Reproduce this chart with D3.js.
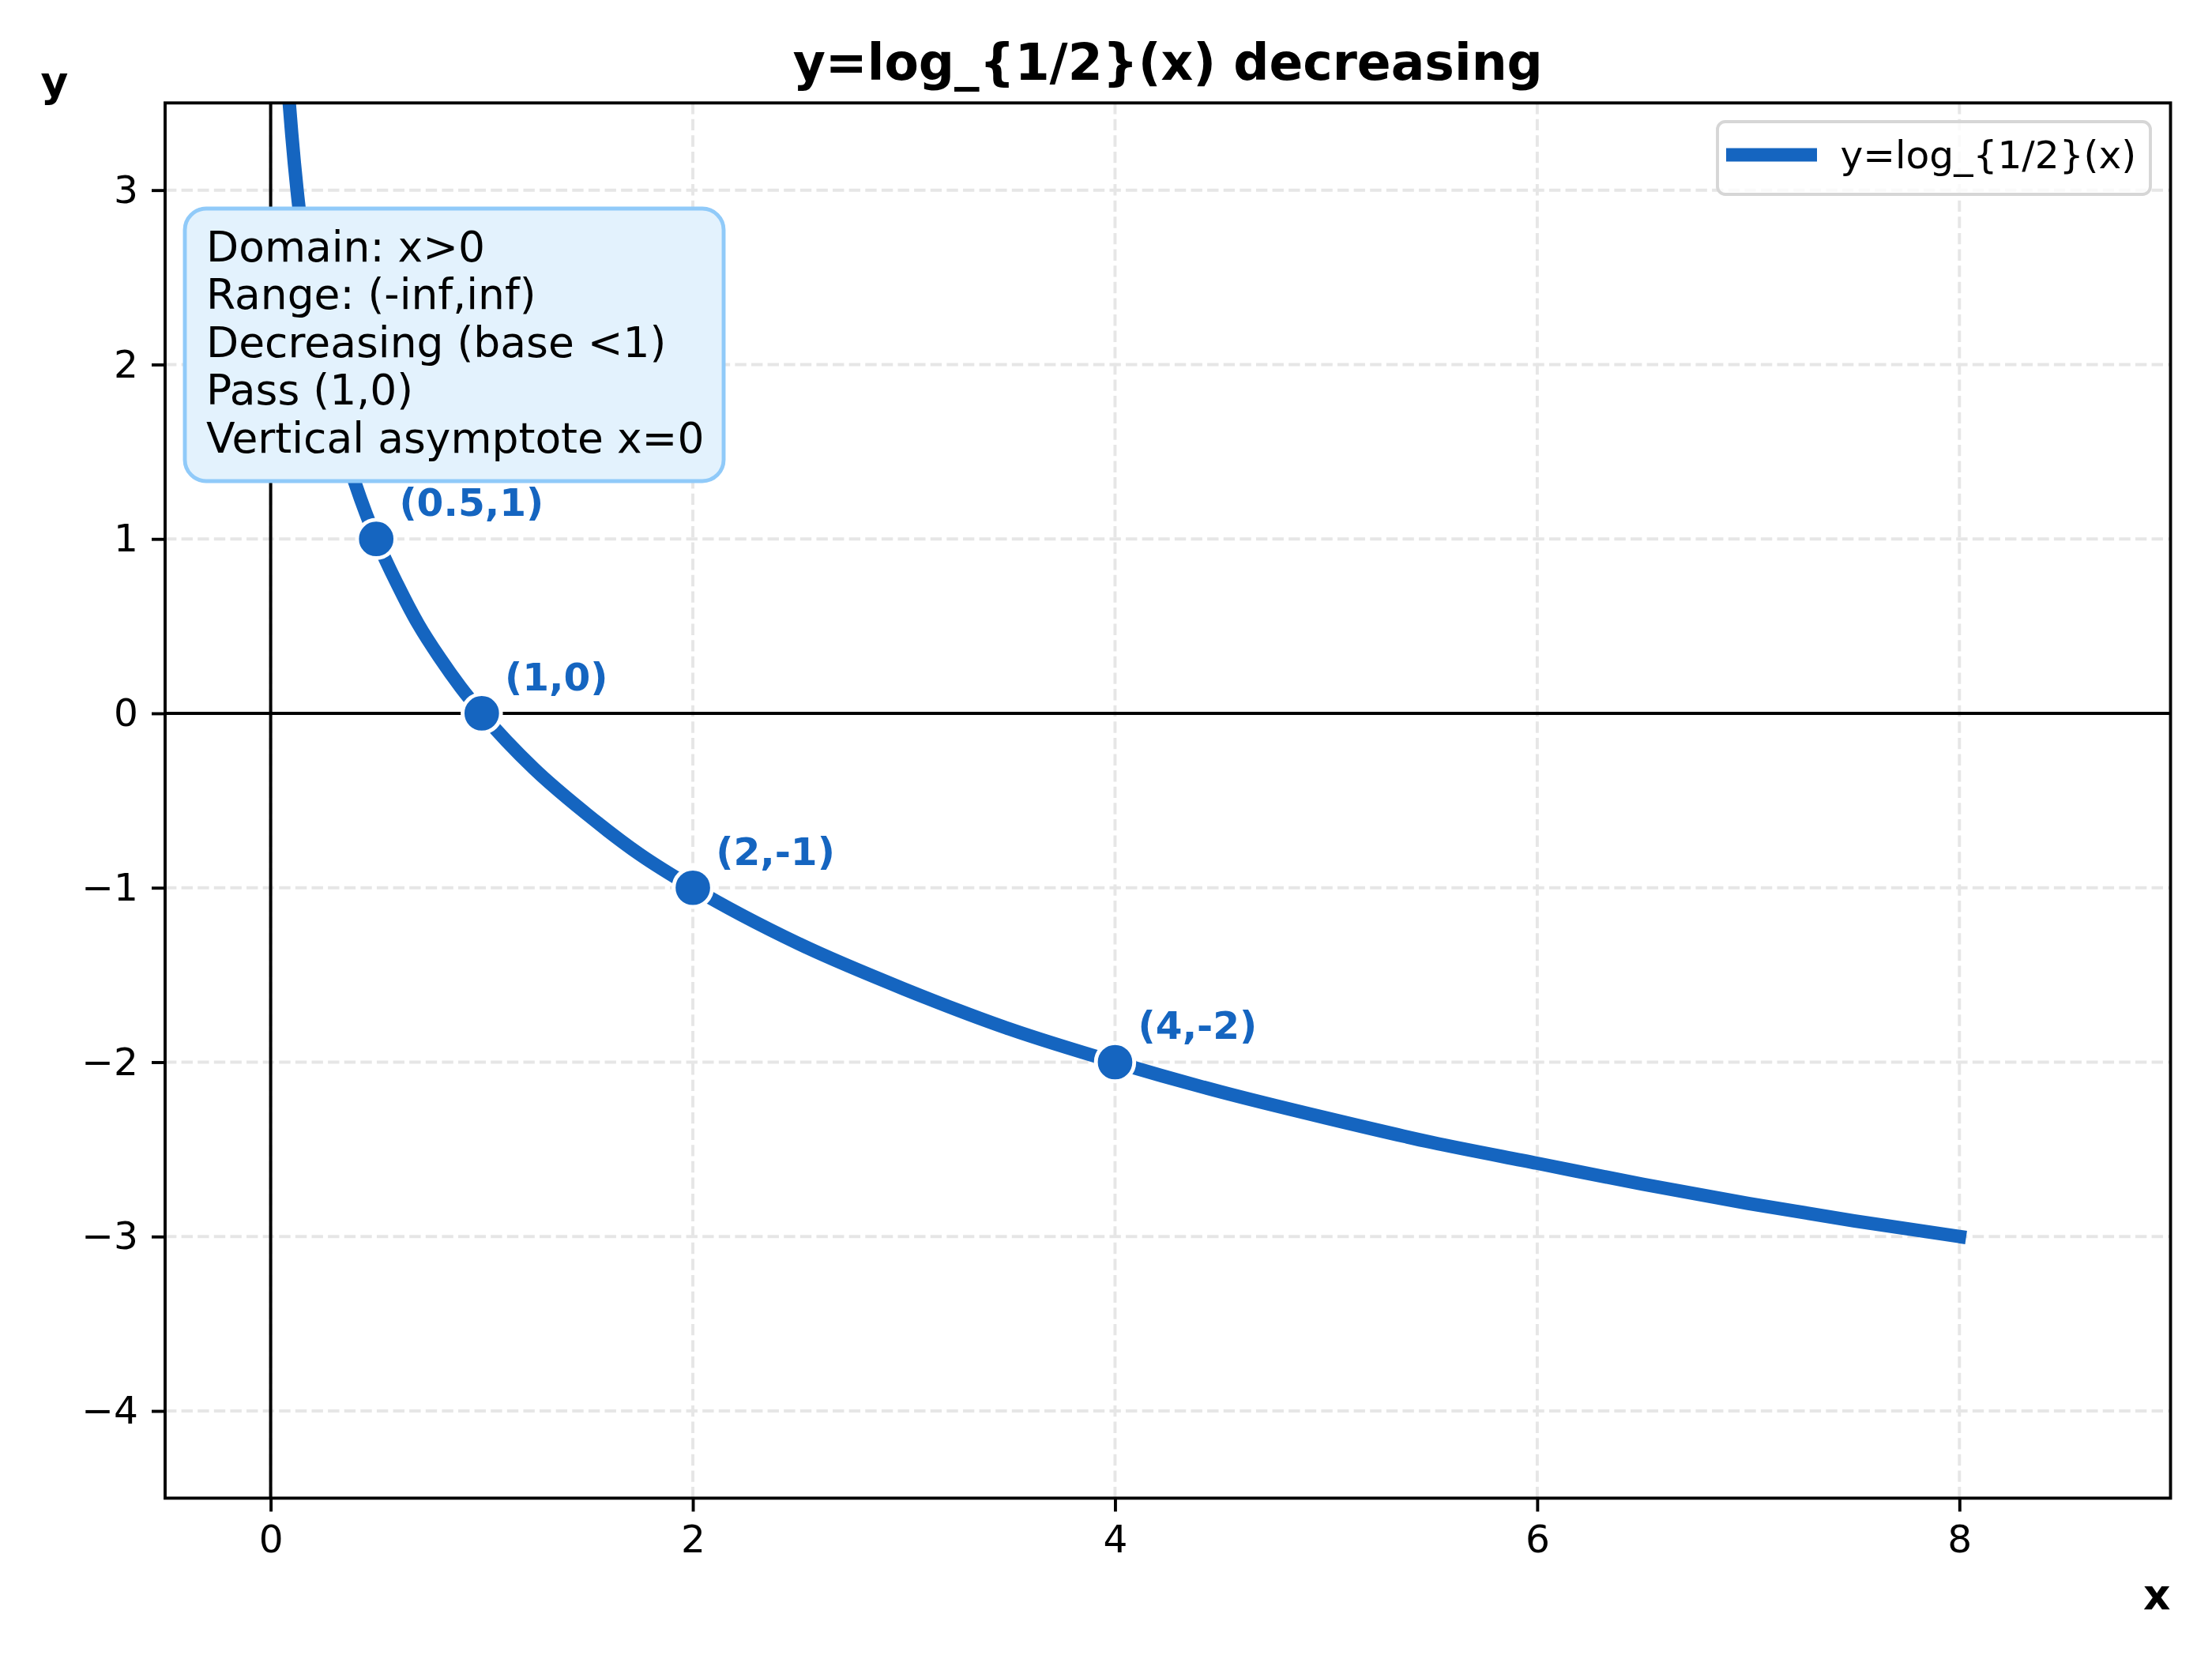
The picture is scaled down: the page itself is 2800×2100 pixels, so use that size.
<!DOCTYPE html>
<html>
<head>
<meta charset="utf-8">
<script src="https://cdn.jsdelivr.net/npm/d3@7"></script>
<style>
  html, body { margin: 0; padding: 0; background: #fff; }
  text { font-family: "DejaVu Sans", sans-serif; }
</style>
</head>
<body>
<svg id="chart"></svg>
<script>
const width = 2800, height = 2100;
const margin = { top: 130.3, right: 52.5, bottom: 203.6, left: 209 };
const plotWidth = width - margin.left - margin.right;
const plotHeight = height - margin.top - margin.bottom;

// Curve samples (x, y)
const curveX = [0.07, 0.088, 0.1, 0.125, 0.15, 0.2, 0.25, 0.3, 0.35, 0.4, 0.45, 0.5, 0.6, 0.7, 0.8, 0.9, 1, 1.25, 1.5, 1.75, 2, 2.5, 3, 3.5, 4, 4.5, 5, 5.5, 6, 6.5, 7, 7.5, 8];
const curveY = [3.84, 3.5, 3.32, 3.0, 2.74, 2.32, 2.0, 1.74, 1.51, 1.32, 1.15, 1.0, 0.74, 0.51, 0.32, 0.15, 0, -0.32, -0.58, -0.81, -1, -1.32, -1.58, -1.81, -2, -2.17, -2.32, -2.46, -2.58, -2.7, -2.81, -2.91, -3];

// Marked points
const pointX = [0.5, 1, 2, 4];
const pointY = [1, 0, -1, -2];
const pointLabels = ["(0.5,1)", "(1,0)", "(2,-1)", "(4,-2)"];

// Ticks
const xTicks = [0, 2, 4, 6, 8];
const yTicks = [-4, -3, -2, -1, 0, 1, 2, 3];

const infoLines = ["Domain: x>0", "Range: (-inf,inf)", "Decreasing (base <1)", "Pass (1,0)", "Vertical asymptote x=0"];
const titleText = "y=log_{1/2}(x) decreasing";
const legendText = "y=log_{1/2}(x)";

const blue = "#1565C0";
const px = 350 / 72; // points to pixels

const svg = d3.select("#chart")
    .attr("width", width)
    .attr("height", height)
    .attr("viewBox", [0, 0, width, height]);

svg.append("rect").attr("width", width).attr("height", height).attr("fill", "#fff");

const g = svg.append("g").attr("transform", `translate(${margin.left},${margin.top})`);

g.append("defs").append("clipPath").attr("id", "clip")
    .append("rect").attr("width", plotWidth).attr("height", plotHeight);

const xScale = d3.scaleLinear().domain([-0.5, 9]).range([0, plotWidth]);
const yScale = d3.scaleLinear().domain([-4.5, 3.5]).range([plotHeight, 0]);

// Grid
const grid = g.append("g").attr("class", "grid");
grid.selectAll(".vgrid")
    .data(xTicks)
    .enter()
    .append("line")
    .attr("x1", d => xScale(d)).attr("x2", d => xScale(d))
    .attr("y1", plotHeight).attr("y2", 0)
    .attr("stroke", "#e6e6e6")
    .attr("stroke-width", 0.8 * px)
    .attr("stroke-dasharray", `${2.96 * px},${1.28 * px}`);
grid.selectAll(".hgrid")
    .data(yTicks)
    .enter()
    .append("line")
    .attr("x1", 0).attr("x2", plotWidth)
    .attr("y1", d => yScale(d)).attr("y2", d => yScale(d))
    .attr("stroke", "#e6e6e6")
    .attr("stroke-width", 0.8 * px)
    .attr("stroke-dasharray", `${2.96 * px},${1.28 * px}`);

// Zero lines
g.append("line")
    .attr("x1", 0).attr("x2", plotWidth)
    .attr("y1", yScale(0)).attr("y2", yScale(0))
    .attr("stroke", "#000").attr("stroke-width", 4);
g.append("line")
    .attr("x1", xScale(0)).attr("x2", xScale(0))
    .attr("y1", 0).attr("y2", plotHeight)
    .attr("stroke", "#000").attr("stroke-width", 4);

// Curve
const lineGenerator = d3.line()
    .x(d => xScale(d[0]))
    .y(d => yScale(d[1]))
    .curve(d3.curveMonotoneX);

g.append("g").attr("clip-path", "url(#clip)")
    .append("path")
    .attr("d", lineGenerator(d3.zip(curveX, curveY)))
    .attr("fill", "none")
    .attr("stroke", blue)
    .attr("stroke-width", 17)
    .attr("stroke-linecap", "square")
    .attr("stroke-linejoin", "round");

// Points
const pts = d3.zip(pointX, pointY, pointLabels);
g.selectAll(".pt")
    .data(pts)
    .enter()
    .append("circle")
    .attr("class", "pt")
    .attr("cx", d => xScale(d[0]))
    .attr("cy", d => yScale(d[1]))
    .attr("r", 24.3)
    .attr("fill", blue)
    .attr("stroke", "#fff")
    .attr("stroke-width", 4.9);

g.selectAll(".pt-label")
    .data(pts)
    .enter()
    .append("text")
    .attr("class", "pt-label")
    .attr("x", d => xScale(d[0]) + 6 * px)
    .attr("y", d => yScale(d[1]) - 6 * px)
    .attr("font-size", 10 * px)
    .attr("font-weight", "bold")
    .attr("fill", blue)
    .text(d => d[2]);

// Axes
const xAxis = g.append("g")
    .attr("transform", `translate(0,${plotHeight})`)
    .call(d3.axisBottom(xScale).tickValues(xTicks).tickSize(3.5 * px).tickPadding(3.5 * px));
const yAxis = g.append("g")
    .call(d3.axisLeft(yScale).tickValues(yTicks).tickSize(3.5 * px).tickPadding(3.5 * px));
[xAxis, yAxis].forEach(a => {
    a.select(".domain").remove();
    a.selectAll(".tick line").attr("stroke", "#000").attr("stroke-width", 0.8 * px);
    a.selectAll(".tick text")
        .attr("font-family", "DejaVu Sans")
        .attr("font-size", 10 * px)
        .attr("fill", "#000");
});

// Spines
g.append("rect")
    .attr("width", plotWidth).attr("height", plotHeight)
    .attr("fill", "none")
    .attr("stroke", "#000")
    .attr("stroke-width", 0.8 * px);

// Info box
const fs = 11 * px;
const boxX = 234, boxY = 264;
const info = svg.append("g");
info.append("rect")
    .attr("x", boxX).attr("y", boxY)
    .attr("width", 682).attr("height", 345)
    .attr("rx", 27).attr("ry", 27)
    .attr("fill", "#E3F2FD")
    .attr("stroke", "#90CAF9")
    .attr("stroke-width", 4.9);
info.selectAll("text")
    .data(infoLines)
    .enter()
    .append("text")
    .attr("x", 261)
    .attr("y", (d, i) => 331 + i * 60.4)
    .attr("font-size", fs)
    .attr("fill", "#000")
    .text(d => d);

// Legend
const legend = svg.append("g");
legend.append("rect")
    .attr("x", 2174).attr("y", 154)
    .attr("width", 548).attr("height", 92)
    .attr("rx", 10).attr("ry", 10)
    .attr("fill", "#fff").attr("fill-opacity", 0.8)
    .attr("stroke", "#d6d6d6")
    .attr("stroke-width", 0.8 * px);
legend.append("line")
    .attr("x1", 2193.5).attr("x2", 2291.5)
    .attr("y1", 196).attr("y2", 196)
    .attr("stroke", blue).attr("stroke-width", 17)
    .attr("stroke-linecap", "square");
legend.append("text")
    .attr("x", 2329.6).attr("y", 213)
    .attr("font-size", 10 * px)
    .attr("fill", "#000")
    .text(legendText);

// Title
svg.append("text")
    .attr("x", margin.left + plotWidth / 2)
    .attr("y", 101)
    .attr("text-anchor", "middle")
    .attr("font-size", 13 * px)
    .attr("font-weight", "bold")
    .attr("fill", "#000")
    .text(titleText);

// Axis labels
svg.append("text")
    .attr("x", margin.left + plotWidth)
    .attr("y", 2037)
    .attr("text-anchor", "end")
    .attr("font-size", 11 * px)
    .attr("font-weight", "bold")
    .text("x");
svg.append("text")
    .attr("x", 69)
    .attr("y", 122)
    .attr("text-anchor", "middle")
    .attr("font-size", 11 * px)
    .attr("font-weight", "bold")
    .text("y");
</script>
</body>
</html>
